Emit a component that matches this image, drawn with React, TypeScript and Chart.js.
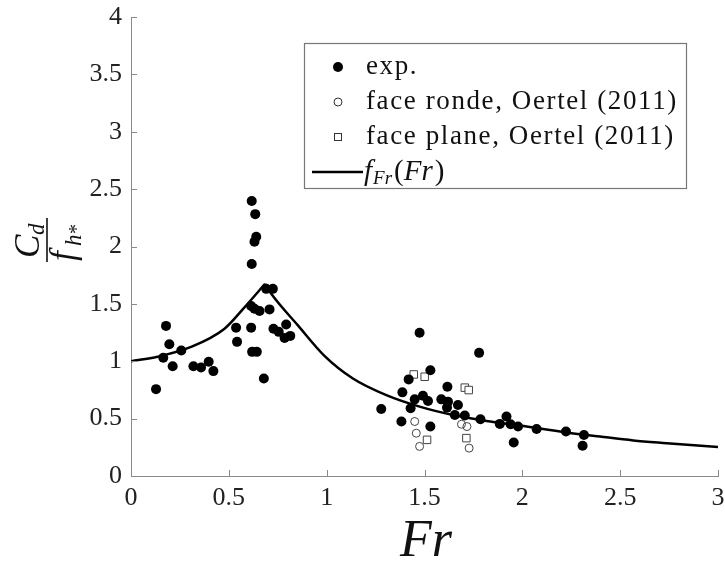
import React, { useEffect, useRef } from "react";
import { Chart, registerables } from "chart.js";

Chart.register(...registerables);

// experimental points (Fr, Cd/fh*)
const expFr = [0.128, 0.179, 0.196, 0.165, 0.257, 0.213, 0.319, 0.358, 0.397, 0.421, 0.537, 0.542, 0.617, 0.635, 0.64, 0.631, 0.617, 0.614, 0.631, 0.657, 0.708, 0.614, 0.619, 0.643, 0.679, 0.691, 0.725, 0.728, 0.755, 0.793, 0.785, 0.814,
  1.475, 1.779, 1.53, 1.419, 1.617, 1.387, 1.45, 1.492, 1.518, 1.429, 1.586, 1.62, 1.615, 1.671, 1.655, 1.706, 1.279, 1.382, 1.53, 1.786, 1.885, 1.919, 1.94, 1.978, 1.956, 2.073, 2.223, 2.315, 2.308];
const expCd = [0.757, 1.308, 1.148, 1.03, 1.093, 0.957, 0.957, 0.946, 0.995, 0.914, 1.293, 1.169, 2.397, 2.282, 2.085, 2.042, 1.848, 1.481, 1.458, 1.438, 1.452, 1.293, 1.082, 1.082, 0.85, 1.631, 1.631, 1.284, 1.256, 1.321, 1.203, 1.221,
  1.249, 1.073, 0.922, 0.842, 0.778, 0.729, 0.668, 0.7, 0.653, 0.59, 0.668, 0.648, 0.596, 0.619, 0.532, 0.527, 0.584, 0.475, 0.432, 0.495, 0.454, 0.518, 0.451, 0.431, 0.292, 0.41, 0.388, 0.358, 0.263];

// face ronde, Oertel (2011)
const rondeFr = [1.45, 1.458, 1.475, 1.689, 1.717, 1.728];
const rondeCd = [0.475, 0.373, 0.258, 0.451, 0.431, 0.243];

// face plane, Oertel (2011)
const planeFr = [1.445, 1.501, 1.706, 1.726, 1.513, 1.714];
const planeCd = [0.885, 0.865, 0.77, 0.749, 0.315, 0.33];

// f_Fr(Fr) curve (two branches around the peak)
const curveLeftFr = [0, 0.136, 0.307, 0.478, 0.58, 0.685];
const curveLeftVal = [1.0, 1.04, 1.125, 1.284, 1.47, 1.675];
const curveRightFr = [0.685, 0.716, 0.853, 0.99, 1.134, 1.305, 1.475, 1.646, 1.817, 1.987, 2.226, 2.397, 2.567, 2.738, 3.0];
const curveRightVal = [1.675, 1.59, 1.313, 1.045, 0.85, 0.705, 0.605, 0.532, 0.48, 0.44, 0.38, 0.344, 0.31, 0.286, 0.252];

const xTicks = [0, 0.5, 1, 1.5, 2, 2.5, 3];
const yTicks = [0, 0.5, 1, 1.5, 2, 2.5, 3, 3.5, 4];

const legendLabels = ["exp.", "face ronde, Oertel (2011)", "face plane, Oertel (2011)"];

const SERIF = '"Liberation Serif", "DejaVu Serif", serif';
const AXIS_COLOR = "#8a8a8a";

const zip = (xs: number[], ys: number[]) => xs.map((x, i) => ({ x, y: ys[i] }));

const decorPlugin = {
  id: "decor",
  afterDraw(chart: any) {
    const ctx = chart.ctx as CanvasRenderingContext2D;
    const xs = chart.scales.x;
    const ys = chart.scales.y;
    const area = chart.chartArea;
    ctx.save();
    // inward ticks
    ctx.strokeStyle = AXIS_COLOR;
    ctx.lineWidth = 1;
    xTicks.forEach((t) => {
      const px = Math.round(xs.getPixelForValue(t)) + 0.5;
      ctx.beginPath();
      ctx.moveTo(px, area.bottom);
      ctx.lineTo(px, area.bottom - 6);
      ctx.stroke();
    });
    yTicks.forEach((t) => {
      const py = Math.round(ys.getPixelForValue(t)) + 0.5;
      ctx.beginPath();
      ctx.moveTo(area.left, py);
      ctx.lineTo(area.left + 6, py);
      ctx.stroke();
    });

    // x title: Fr
    ctx.fillStyle = "#111";
    ctx.font = `italic 52px ${SERIF}`;
    ctx.textAlign = "center";
    ctx.textBaseline = "alphabetic";
    ctx.fillText("Fr", 426, 556);

    // y title: Cd / fh*  (rotated fraction)
    ctx.save();
    ctx.translate(47, 240);
    ctx.rotate(-Math.PI / 2);
    ctx.strokeStyle = "#111";
    ctx.lineWidth = 1.6;
    ctx.beginPath();
    ctx.moveTo(-22, 0);
    ctx.lineTo(22, 0);
    ctx.stroke();
    ctx.textAlign = "left";
    ctx.font = `italic 35px ${SERIF}`;
    ctx.fillText("C", -18, -8);
    ctx.font = `italic 23px ${SERIF}`;
    ctx.fillText("d", 5, -3);
    ctx.font = `italic 35px ${SERIF}`;
    ctx.fillText("f", -21, 27);
    ctx.font = `italic 23px ${SERIF}`;
    ctx.fillText("h", -6, 34);
    ctx.font = `20px ${SERIF}`;
    ctx.fillText("*", 6, 36);
    ctx.restore();

    // legend
    ctx.textAlign = "left";
    const bx = 304, by = 43, bw = 382, bh = 145;
    ctx.fillStyle = "#fff";
    ctx.fillRect(bx, by, bw, bh);
    ctx.strokeStyle = "#777";
    ctx.lineWidth = 1.2;
    ctx.strokeRect(bx + 0.5, by + 0.5, bw, bh);
    const rowY = [67, 102, 137, 172];
    const mx = 338;
    const tx = 366;
    // filled circle
    ctx.fillStyle = "#000";
    ctx.beginPath();
    ctx.arc(mx, rowY[0], 5, 0, Math.PI * 2);
    ctx.fill();
    // open circle
    ctx.strokeStyle = "#333";
    ctx.lineWidth = 1;
    ctx.beginPath();
    ctx.arc(mx, rowY[1], 4, 0, Math.PI * 2);
    ctx.stroke();
    // open square
    ctx.strokeRect(mx - 3.5, rowY[2] - 3.5, 7, 7);
    // line
    ctx.strokeStyle = "#000";
    ctx.lineWidth = 2.5;
    ctx.beginPath();
    ctx.moveTo(312, rowY[3]);
    ctx.lineTo(363, rowY[3]);
    ctx.stroke();
    ctx.fillStyle = "#111";
    ctx.font = `27px ${SERIF}`;
    ctx.textBaseline = "middle";
    (ctx as any).letterSpacing = "1.6px";
    legendLabels.forEach((l, i) => ctx.fillText(l, tx, rowY[i]));
    (ctx as any).letterSpacing = "0px";
    // f_Fr(Fr)
    let cx = 364;
    ctx.font = `italic 29px ${SERIF}`;
    ctx.fillText("f", cx, rowY[3]);
    cx += ctx.measureText("f").width + 1;
    ctx.font = `italic 19px ${SERIF}`;
    ctx.fillText("Fr", cx, rowY[3] + 7);
    cx += ctx.measureText("Fr").width + 2;
    ctx.font = `29px ${SERIF}`;
    ctx.fillText("(", cx, rowY[3]);
    cx += ctx.measureText("(").width;
    ctx.font = `italic 29px ${SERIF}`;
    ctx.fillText("Fr", cx, rowY[3]);
    cx += ctx.measureText("Fr").width + 2;
    ctx.font = `29px ${SERIF}`;
    ctx.fillText(")", cx, rowY[3]);
    ctx.restore();
  },
};

export default function App() {
  const ref = useRef<HTMLCanvasElement | null>(null);
  useEffect(() => {
    if (!ref.current) return;
    const chart = new Chart(ref.current, {
      type: "scatter",
      data: {
        datasets: [
          {
            label: "curveL",
            type: "line",
            data: zip(curveLeftFr, curveLeftVal),
            borderColor: "#000",
            borderWidth: 2.5,
            pointRadius: 0,
            cubicInterpolationMode: "monotone",
            fill: false,
            order: 0,
          } as any,
          {
            label: "curveR",
            type: "line",
            data: zip(curveRightFr, curveRightVal),
            borderColor: "#000",
            borderWidth: 2.5,
            pointRadius: 0,
            cubicInterpolationMode: "monotone",
            fill: false,
            order: 0,
          } as any,
          {
            label: legendLabels[0],
            data: zip(expFr, expCd),
            pointRadius: 5,
            pointBackgroundColor: "#000",
            pointBorderColor: "#000",
            pointBorderWidth: 0,
            order: 1,
          },
          {
            label: legendLabels[1],
            data: zip(rondeFr, rondeCd),
            pointRadius: 4,
            pointStyle: "circle",
            pointBackgroundColor: "rgba(255,255,255,0)",
            pointBorderColor: "#444",
            pointBorderWidth: 1,
            order: 2,
          },
          {
            label: legendLabels[2],
            data: zip(planeFr, planeCd),
            pointRadius: 5.3,
            pointStyle: "rect",
            pointBackgroundColor: "#fff",
            pointBorderColor: "#444",
            pointBorderWidth: 1,
            order: 3,
          },
        ],
      },
      options: {
        animation: false,
        responsive: false,
        events: [],
        layout: { padding: { left: 0, top: 17, right: 7, bottom: 0 } },
        plugins: { legend: { display: false }, tooltip: { enabled: false } },
        scales: {
          x: {
            type: "linear",
            min: 0,
            max: 3,
            afterFit: (s: any) => { s.height = 85; s.paddingLeft = 0; s.paddingRight = 0; },
            afterBuildTicks: (s: any) => { s.ticks = xTicks.map((v) => ({ value: v })); },
            grid: { display: true, drawOnChartArea: false, drawTicks: false, color: "rgba(0,0,0,0)" },
            border: { display: true, color: AXIS_COLOR, width: 1 },
            ticks: { color: "#222", padding: 7, maxRotation: 0, font: { family: SERIF, size: 26 }, callback: (v: any) => String(v) },
          },
          y: {
            type: "linear",
            min: 0,
            max: 4,
            afterFit: (s: any) => { s.width = 131; s.paddingTop = 0; s.paddingBottom = 0; },
            afterBuildTicks: (s: any) => { s.ticks = yTicks.map((v) => ({ value: v })); },
            grid: { display: true, drawOnChartArea: false, drawTicks: false, color: "rgba(0,0,0,0)" },
            border: { display: true, color: AXIS_COLOR, width: 1 },
            ticks: { color: "#222", padding: 9, font: { family: SERIF, size: 26 }, callback: (v: any) => String(v) },
          },
        },
      },
      plugins: [decorPlugin],
    });
    return () => chart.destroy();
  }, []);
  return (
    <div style={{ position: "absolute", left: 0, top: 0, width: 725, height: 561, background: "#fff" }}>
      <canvas ref={ref} width={725} height={561} style={{ width: 725, height: 561 }} />
    </div>
  );
}
